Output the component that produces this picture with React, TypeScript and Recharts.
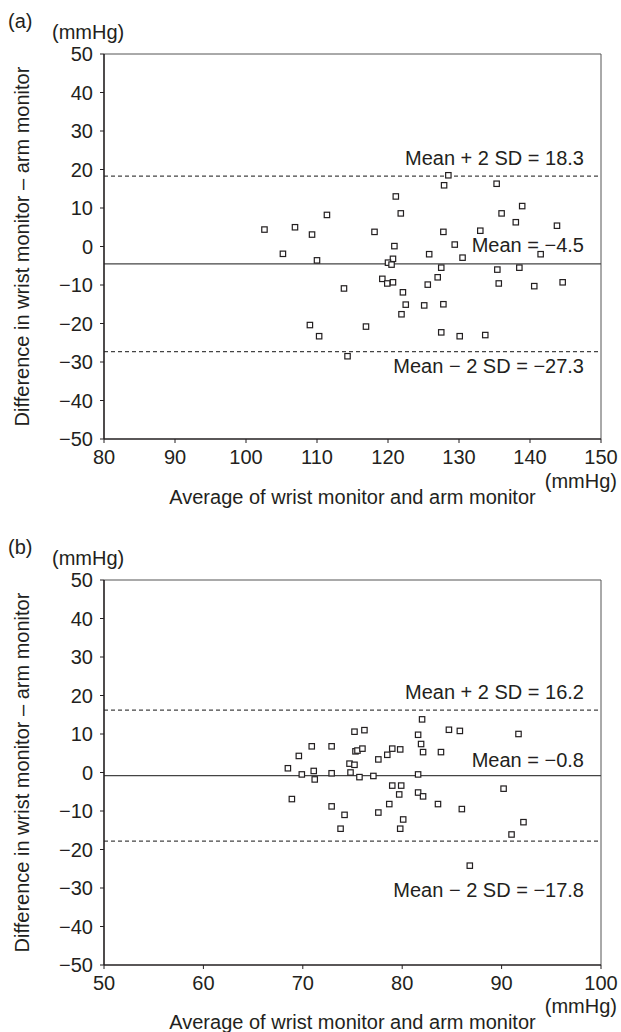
import React from 'react';
import { ScatterChart, Scatter, XAxis, YAxis, ReferenceLine } from 'recharts';

// panel (a)
const aX = [102.6, 105.2, 106.9, 109.3, 111.4, 110.0, 113.8, 109.0, 110.3, 116.9, 118.1, 114.3,
  128.5, 127.9, 135.3, 121.1, 121.8, 138.9, 136.0, 138.0, 143.8, 127.8, 133.0, 120.9, 129.4,
  125.8, 130.5, 141.5, 120.7, 120.0, 120.5, 127.5, 135.4, 138.5, 119.2, 119.9, 120.7, 127.0,
  125.6, 135.6, 140.6, 144.6, 122.1, 122.5, 125.1, 127.8, 121.9, 127.5, 130.1, 133.7];
const aY = [4.4, -1.9, 5.0, 3.1, 8.2, -3.6, -10.9, -20.4, -23.3, -20.8, 3.8, -28.5,
  18.5, 15.9, 16.3, 13.0, 8.6, 10.5, 8.6, 6.3, 5.4, 3.8, 4.1, 0.1, 0.5,
  -2.0, -2.9, -2.0, -3.2, -4.2, -4.7, -5.5, -6.0, -5.5, -8.4, -9.6, -9.3, -8.0,
  -9.9, -9.6, -10.3, -9.3, -11.9, -15.1, -15.3, -15.0, -17.6, -22.3, -23.3, -23.0];
const aXTicks = [80, 90, 100, 110, 120, 130, 140, 150];
const aLines = { mean: -4.5, upper: 18.3, lower: -27.3 };

// panel (b)
const bX = [68.5, 69.6, 70.9, 72.9, 69.9, 71.1, 71.2, 72.9, 68.9, 72.9, 74.2, 73.8, 75.2, 76.2,
  75.3, 75.5, 76.0, 74.7, 75.2, 74.8, 75.7, 77.1, 77.6, 78.5, 79.0, 79.8, 79.0, 79.9, 79.7,
  78.7, 77.6, 79.8, 82.0, 84.7, 85.8, 91.7, 81.6, 81.9, 82.1, 83.9, 81.6, 81.6, 82.1, 83.6,
  86.0, 90.2, 80.1, 92.2, 91.0, 86.8];
const bY = [1.1, 4.3, 6.8, 6.8, -0.5, 0.4, -1.8, -0.2, -6.9, -8.8, -11.0, -14.6, 10.6, 11.0,
  5.5, 5.7, 6.2, 2.3, 2.0, 0.0, -1.2, -0.9, 3.4, 4.6, 6.2, 6.0, -3.4, -3.4, -5.7,
  -8.2, -10.4, -14.6, 13.8, 11.1, 10.8, 10.0, 9.8, 7.4, 5.3, 5.3, -0.5, -5.2, -6.2, -8.2,
  -9.5, -4.2, -12.2, -12.9, -16.1, -24.2];
const bXTicks = [50, 60, 70, 80, 90, 100];
const bLines = { mean: -0.8, upper: 16.2, lower: -17.8 };

const yTicks = [-50, -40, -30, -20, -10, 0, 10, 20, 30, 40, 50];

const FONT = '"Liberation Sans", Arial, Helvetica, sans-serif';
const INK = '#231f20';

const fmt = (v: number) => (v < 0 ? `\u2212${Math.abs(v)}` : `${v}`);

const Square = (props: any) => {
  const { cx, cy } = props;
  if (cx == null || cy == null) return null;
  return <rect x={cx - 2.7} y={cy - 2.7} width={5.4} height={5.4} fill="#fff" stroke={INK} strokeWidth={1.2} />;
};

const lineLabel = (text: string, dy: number) => (props: any) => {
  const vb = props.viewBox;
  return (
    <text x={vb.x + vb.width - 17} y={vb.y + dy} textAnchor="end" fontSize={20} fontFamily={FONT} fill={INK}>
      {text}
    </text>
  );
};

const YTitle = (props: any) => {
  const vb = props.viewBox;
  const cx = 22;
  const cy = vb.y + vb.height / 2;
  return (
    <text x={cx} y={cy} transform={`rotate(-90 ${cx} ${cy})`} textAnchor="middle" dominantBaseline="central"
      fontSize={20} fontFamily={FONT} fill={INK}>
      Difference in wrist monitor {'\u2013'} arm monitor
    </text>
  );
};

const XTitle = (unitDy: number, titleDy: number) => (props: any) => {
  const vb = props.viewBox;
  return (
    <g fontSize={20} fontFamily={FONT} fill={INK}>
      <text x={617} y={vb.y + unitDy} textAnchor="end">(mmHg)</text>
      <text x={vb.x + vb.width / 2} y={vb.y + titleDy} textAnchor="middle">Average of wrist monitor and arm monitor</text>
    </g>
  );
};

type PanelProps = {
  tag: string;
  xs: number[];
  ys: number[];
  xTicks: number[];
  lines: { mean: number; upper: number; lower: number };
  top: number;
  dys: [number, number, number];
  titleDys: [number, number];
};

function Panel({ tag, xs, ys, xTicks, lines, top, dys, titleDys }: PanelProps) {
  const data = xs.map((x, i) => ({ x, y: ys[i] }));
  const xMin = xTicks[0];
  const xMax = xTicks[xTicks.length - 1];
  return (
    <div style={{ position: 'relative', width: 621, height: 516 }}>
      <div style={{ position: 'absolute', left: 8, top: top - 43, fontSize: 20, fontFamily: FONT, color: INK, lineHeight: 1 }}>{tag}</div>
      <div style={{ position: 'absolute', left: 52, top: top - 32, fontSize: 20, fontFamily: FONT, color: INK, lineHeight: 1 }}>(mmHg)</div>
      <ScatterChart width={621} height={516} margin={{ top, right: 20, left: 0, bottom: 0 }}>
        <XAxis
          type="number"
          dataKey="x"
          domain={[xMin, xMax]}
          ticks={xTicks}
          interval={0}
          allowDataOverflow
          height={516 - top - 385}
          tick={{ fontSize: 20, fontFamily: FONT, fill: INK }}
          tickSize={4}
          tickMargin={7}
          stroke={INK}
          axisLine={{ stroke: INK, strokeWidth: 1.6 }}
          tickLine={{ stroke: INK }}
          label={XTitle(titleDys[0], titleDys[1])}
        />
        <YAxis
          type="number"
          dataKey="y"
          domain={[-50, 50]}
          ticks={yTicks}
          interval={0}
          allowDataOverflow
          width={104}
          tick={{ fontSize: 20, fontFamily: FONT, fill: INK }}
          tickFormatter={fmt}
          tickSize={4}
          tickMargin={7}
          axisLine={{ stroke: INK, strokeWidth: 1.6 }}
          tickLine={{ stroke: INK }}
          label={YTitle}
        />
        <ReferenceLine y={50} stroke="#555" strokeWidth={1} />
        <ReferenceLine x={xMax} stroke="#555" strokeWidth={1} />
        <ReferenceLine y={lines.upper} stroke="#444" strokeWidth={1.2} strokeDasharray="4 3"
          label={lineLabel(`Mean + 2 SD = ${lines.upper}`, dys[0])} />
        <ReferenceLine y={lines.mean} stroke="#444" strokeWidth={1.3}
          label={lineLabel(`Mean = ${fmt(lines.mean)}`, dys[1])} />
        <ReferenceLine y={lines.lower} stroke="#444" strokeWidth={1.2} strokeDasharray="4 3"
          label={lineLabel(`Mean \u2212 2 SD = ${fmt(lines.lower)}`, dys[2])} />
        <Scatter data={data} shape={Square} isAnimationActive={false} />
      </ScatterChart>
    </div>
  );
}

export default function App() {
  return (
    <div style={{ position: 'absolute', left: 0, top: 0, width: 621, height: 1032, background: '#fff', overflow: 'hidden' }}>
      <Panel tag="(a)" xs={aX} ys={aY} xTicks={aXTicks} lines={aLines} top={54}
        dys={[-11, -12, 21]} titleDys={[49, 65]} />
      <Panel tag="(b)" xs={bX} ys={bY} xTicks={bXTicks} lines={bLines} top={64}
        dys={[-11, -9, 56]} titleDys={[48, 64]} />
    </div>
  );
}
